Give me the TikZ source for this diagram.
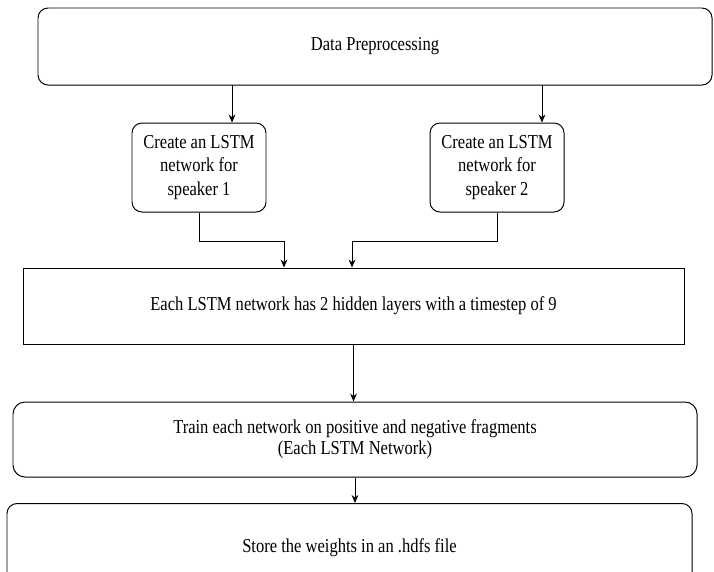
\documentclass[tikz,border=0pt]{standalone}
\usepackage{fontspec}
\setmainfont[FakeStretch=0.84]{Liberation Serif}
\usetikzlibrary{arrows.meta}

\begin{document}
\begin{tikzpicture}[font=\fontsize{14}{17}\selectfont,
	roundbox/.style={draw,line width=.7pt,fill=white,rounded corners=.25cm,align=center,inner sep=0pt},
	flatbox/.style={roundbox,sharp corners},
	arr/.style={line width=.7pt,-{Stealth[length=2mm,width=1.7mm]}}]
	\useasboundingbox (0,0) rectangle (17.85,-14.275);
	\clip (0,0) rectangle (17.85,-14.275);
	% cac hop
	\node[roundbox,minimum width=16.85cm,minimum height=1.925cm] (prep) at (9.375,-1.1625) {Data Preprocessing};
	\node[roundbox,minimum width=3.35cm,minimum height=2.225cm] (spkA) at (4.975,-4.1875) {Create an LSTM\\network for\\speaker 1};
	\node[roundbox,minimum width=3.35cm,minimum height=2.225cm] (spkB) at (12.425,-4.1875) {Create an LSTM\\network for\\speaker 2};
	\node[flatbox,minimum width=16.525cm,minimum height=1.9cm] (lstm) at (8.8375,-7.65) {Each LSTM network has 2 hidden layers with a timestep of 9};
	\node[roundbox,rounded corners=.3cm,minimum width=17.1cm,minimum height=1.875cm,font=\fontsize{14}{15}\selectfont] (train) at (8.875,-10.9875) {Train each network on positive and negative fragments\\(Each LSTM Network)};
	\node[roundbox,anchor=north,minimum width=17.125cm,text height=1.225cm,text depth=1cm] (store) at (8.7375,-12.575) {Store the weights in an .hdfs file};
	% cac mui ten
	\coordinate (dA) at (5.8,-2.125);
	\coordinate (dB) at (13.55,-2.125);
	\coordinate (inA) at ([xshift=-1.7375cm]lstm.north);
	\coordinate (inB) at ([xshift=-.0375cm]lstm.north);
	\draw[arr] (dA) -- (dA |- spkA.north);
	\draw[arr] (dB) -- (dB |- spkB.north);
	\draw[arr] (spkA.south) -- ++(0,-.725) -| (inA);
	\draw[arr] (spkB.south) -- ++(0,-.725) -| (inB);
	\draw[arr] (lstm.south) -- (lstm.south |- train.north);
	\draw[arr] (train.south) -- (train.south |- store.north);
\end{tikzpicture}
\end{document}
